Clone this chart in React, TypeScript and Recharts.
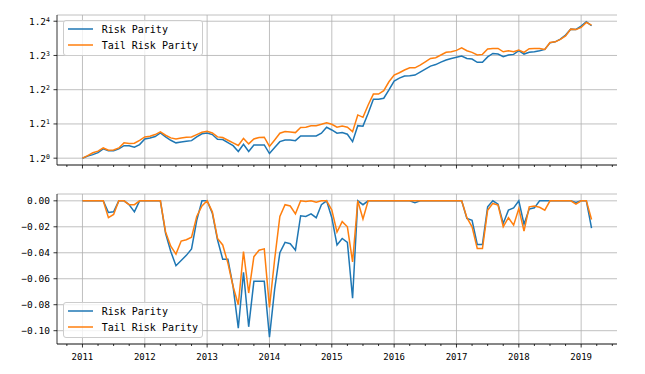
import {
  LineChart, Line, XAxis, YAxis, CartesianGrid, ReferenceLine, Legend,
} from 'recharts'

const FONT = '"DejaVu Sans Mono", monospace'
const BLUE = '#1f77b4'
const ORANGE = '#ff7f0e'
const GRID = '#b0b0b0'

// monthly series, first point = Jan 2011
const START_YEAR = 2011
const BASE = 1.2

const rpNav = [
  1.000, 1.011, 1.019, 1.030, 1.051, 1.040, 1.040, 1.051, 1.069, 1.068, 1.060, 1.075,
  1.108, 1.114, 1.122, 1.144, 1.120, 1.100, 1.085, 1.090, 1.094, 1.098, 1.120, 1.139,
  1.144, 1.134, 1.106, 1.104, 1.086, 1.069, 1.036, 1.077, 1.036, 1.073, 1.073, 1.073,
  1.025, 1.058, 1.092, 1.102, 1.102, 1.098, 1.126, 1.125, 1.126, 1.126, 1.142, 1.179,
  1.162, 1.142, 1.146, 1.136, 1.092, 1.189, 1.186, 1.270, 1.368, 1.368, 1.376, 1.438,
  1.508, 1.532, 1.549, 1.551, 1.557, 1.582, 1.607, 1.633, 1.646, 1.668, 1.686, 1.700,
  1.711, 1.723, 1.701, 1.695, 1.666, 1.666, 1.715, 1.747, 1.741, 1.716, 1.732, 1.738,
  1.772, 1.741, 1.757, 1.762, 1.772, 1.785, 1.848, 1.858, 1.885, 1.926, 1.988, 1.985,
  2.020, 2.067, 2.024,
]

const trpNav = [
  1.000, 1.014, 1.029, 1.038, 1.056, 1.043, 1.045, 1.056, 1.085, 1.081, 1.083, 1.100,
  1.120, 1.124, 1.134, 1.150, 1.130, 1.114, 1.108, 1.114, 1.118, 1.120, 1.134, 1.148,
  1.154, 1.144, 1.120, 1.116, 1.100, 1.085, 1.070, 1.111, 1.079, 1.108, 1.116, 1.118,
  1.065, 1.102, 1.142, 1.152, 1.150, 1.146, 1.177, 1.179, 1.189, 1.189, 1.198, 1.208,
  1.198, 1.179, 1.187, 1.179, 1.152, 1.259, 1.243, 1.327, 1.407, 1.407, 1.432, 1.502,
  1.557, 1.576, 1.599, 1.618, 1.618, 1.642, 1.671, 1.701, 1.707, 1.732, 1.757, 1.762,
  1.775, 1.800, 1.772, 1.757, 1.732, 1.738, 1.788, 1.794, 1.794, 1.762, 1.772, 1.762,
  1.778, 1.757, 1.792, 1.794, 1.794, 1.785, 1.851, 1.858, 1.883, 1.917, 1.988, 1.983,
  2.006, 2.060, 2.030,
]

const rpDd = [
  0, 0, 0, 0, 0, -0.009, -0.0085, 0, 0, -0.003, -0.0085, 0,
  0, 0, 0, 0, -0.025, -0.039, -0.050, -0.046, -0.042, -0.037, -0.015, 0,
  0, -0.0095, -0.030, -0.045, -0.045, -0.066, -0.098, -0.055, -0.097, -0.062, -0.062, -0.062,
  -0.105, -0.068, -0.040, -0.032, -0.033, -0.038, -0.0115, -0.012, -0.010, -0.013, -0.003, 0,
  -0.013, -0.034, -0.029, -0.032, -0.075, 0, -0.003, 0, 0, 0, 0, 0,
  0, 0, 0, 0, -0.0015, 0, 0, 0, 0, 0, 0, 0,
  0, 0, -0.0136, -0.015, -0.0336, -0.0336, -0.0046, 0, -0.0026, -0.0174, -0.0072, -0.0054,
  0, -0.018, -0.0064, -0.0054, 0, 0, 0, 0, 0, 0, 0, -0.0013,
  0, 0, -0.021,
]

const trpDd = [
  0, 0, 0, 0, 0, -0.013, -0.0105, 0, 0, -0.003, -0.003, 0,
  0, 0, 0, 0, -0.024, -0.035, -0.041, -0.031, -0.030, -0.028, -0.012, -0.004,
  0, -0.0085, -0.029, -0.034, -0.048, -0.066, -0.080, -0.039, -0.071, -0.043, -0.038, -0.037,
  -0.082, -0.045, -0.012, -0.003, -0.004, -0.010, 0, -0.0005, 0, -0.001, 0, 0,
  -0.007, -0.024, -0.016, -0.020, -0.047, 0, -0.014, 0, 0, 0, 0, 0,
  0, 0, 0, 0, 0, 0, 0, 0, 0, 0, 0, 0,
  0, 0, -0.013, -0.020, -0.0367, -0.0367, -0.0072, -0.002, -0.0033, -0.020, -0.013, -0.0187,
  -0.006, -0.0233, -0.0046, -0.004, -0.005, -0.0072, 0, 0, 0, 0, 0, -0.0026,
  0, 0, -0.0144,
]

const yearTicks = [2011, 2012, 2013, 2014, 2015, 2016, 2017, 2018, 2019]
const navTickPowers = [0, 1, 2, 3, 4]
const ddTicks = [0, -0.02, -0.04, -0.06, -0.08, -0.1]
const seriesNames = ['Risk Parity', 'Tail Risk Parity']

// matplotlib style 5% margins
const pad = (lo: number, hi: number): [number, number] => {
  const m = (hi - lo) * 0.05
  return [lo - m, hi + m]
}

const times = rpNav.map((_, i) => START_YEAR + i / 12)
const xDomain = pad(times[0], times[times.length - 1])

const quarterTicks: number[] = []
for (let q = Math.ceil(xDomain[0] * 4); q <= Math.floor(xDomain[1] * 4); q++) quarterTicks.push(q / 4)

const logB = (v: number) => Math.log(v) / Math.log(BASE)
const navLog = pad(
  Math.min(...rpNav.map(logB), ...trpNav.map(logB)),
  Math.max(...rpNav.map(logB), ...trpNav.map(logB)),
)
const navDomain = [BASE ** navLog[0], BASE ** navLog[1]]
const navTicks = navTickPowers.map((p) => BASE ** p)

const ddDomain = pad(Math.min(...rpDd, ...trpDd), Math.max(...rpDd, ...trpDd))

const navData = times.map((t, i) => ({ t, rp: rpNav[i], trp: trpNav[i] }))
const ddData = times.map((t, i) => ({ t, rp: rpDd[i], trp: trpDd[i] }))

function XTick(props: any) {
  const { x, y, payload, showLabel } = props
  const v = payload.value
  const major = Math.abs(v - Math.round(v)) < 1e-6
  return (
    <g>
      <line x1={x} x2={x} y1={y} y2={y + (major ? 3.5 : 2)} stroke="#000" strokeWidth={0.8} />
      {major && showLabel && (
        <text x={x} y={y + 15.5} textAnchor="middle" fontSize={9} fontFamily={FONT} fill="#000">
          {Math.round(v)}
        </text>
      )}
    </g>
  )
}

function PowTick(props: any) {
  const { x, y, payload } = props
  const n = Math.round(logB(payload.value))
  return (
    <text x={x} y={y} dy="0.355em" textAnchor="end" fontSize={9.5} fontFamily={FONT} fill="#000">
      {BASE}
      <tspan dy="-0.45em" fontSize={6.5}>{n}</tspan>
    </text>
  )
}

const fmtDd = (v: number) => (v === 0 ? '0.00' : '\u2212' + Math.abs(v).toFixed(2))

function LegendBox() {
  return (
    <div
      style={{
        width: 140, height: 36, boxSizing: 'border-box', paddingLeft: 4,
        border: '1px solid #cccccc', borderRadius: 3, background: 'rgba(255,255,255,0.8)',
        fontFamily: FONT, fontSize: 10, color: '#000',
      }}
    >
      {seriesNames.map((name, i) => (
        <div key={name} style={{ height: 16, display: 'flex', alignItems: 'center' }}>
          <svg width={25} height={4} style={{ marginRight: 8.7 }}>
            <line x1={0} x2={25} y1={2} y2={2} stroke={i === 0 ? BLUE : ORANGE} strokeWidth={1.5} />
          </svg>
          <span style={{ whiteSpace: 'pre' }}>{name}</span>
        </div>
      ))}
    </div>
  )
}

const axisLine = { stroke: '#000', strokeWidth: 0.8 }

function Frame() {
  return [
    <XAxis key="ft" xAxisId="top" orientation="top" type="number" domain={[0, 1]} height={0}
      tick={false} tickLine={false} axisLine={axisLine} />,
    <YAxis key="fr" yAxisId="right" orientation="right" type="number" domain={[0, 1]} width={0}
      tick={false} tickLine={false} axisLine={axisLine} />,
  ]
}

export default function App() {
  return (
    <div style={{ position: 'absolute', left: 0, top: 0, width: 645, height: 374, background: '#fff' }}>
      <div style={{ position: 'absolute', left: 0, top: 0 }}>
        <LineChart width={645} height={175} data={navData} margin={{ top: 15, right: 28, left: 0, bottom: 5 }}>
          <CartesianGrid vertical={false} stroke={GRID} strokeWidth={0.8} />
          {yearTicks.map((yr) => (
            <ReferenceLine key={yr} x={yr} stroke={GRID} strokeWidth={0.8} />
          ))}
          <XAxis dataKey="t" type="number" domain={xDomain} ticks={quarterTicks} interval={0}
            allowDataOverflow height={5} tickLine={false} tickSize={0} tickMargin={0} axisLine={axisLine}
            tick={(p: any) => <XTick {...p} showLabel={false} />} />
          <YAxis type="number" scale="log" domain={navDomain} ticks={navTicks} interval={0}
            allowDataOverflow width={57} tickSize={3.5} tickMargin={3.5}
            tickLine={axisLine} axisLine={axisLine} tick={(p: any) => <PowTick {...p} />} />
          {Frame()}
          <Line dataKey="rp" name={seriesNames[0]} stroke={BLUE} strokeWidth={1.5} dot={false} isAnimationActive={false} />
          <Line dataKey="trp" name={seriesNames[1]} stroke={ORANGE} strokeWidth={1.5} dot={false} isAnimationActive={false} />
          <Legend layout="vertical" align="center" verticalAlign="middle"
            wrapperStyle={{ left: 63, top: 20, width: 140, height: 36 }} content={() => <LegendBox />} />
        </LineChart>
      </div>
      <div style={{ position: 'absolute', left: 0, top: 180 }}>
        <LineChart width={645} height={194} data={ddData} margin={{ top: 14, right: 28, left: 0, bottom: 10 }}>
          <CartesianGrid vertical={false} stroke={GRID} strokeWidth={0.8} />
          {yearTicks.map((yr) => (
            <ReferenceLine key={yr} x={yr} stroke={GRID} strokeWidth={0.8} />
          ))}
          <XAxis dataKey="t" type="number" domain={xDomain} ticks={quarterTicks} interval={0}
            allowDataOverflow height={20} tickLine={false} tickSize={0} tickMargin={0} axisLine={axisLine}
            tick={(p: any) => <XTick {...p} showLabel />} />
          <YAxis type="number" domain={ddDomain} ticks={ddTicks} interval={0}
            allowDataOverflow width={57} tickSize={3.5} tickMargin={3.5}
            tickLine={axisLine} axisLine={axisLine} tickFormatter={fmtDd}
            tick={{ fontSize: 9.5, fontFamily: FONT, fill: '#000' }} />
          {Frame()}
          <Line dataKey="rp" name={seriesNames[0]} stroke={BLUE} strokeWidth={1.5} dot={false} isAnimationActive={false} />
          <Line dataKey="trp" name={seriesNames[1]} stroke={ORANGE} strokeWidth={1.5} dot={false} isAnimationActive={false} />
          <Legend layout="vertical" align="center" verticalAlign="middle"
            wrapperStyle={{ left: 63, top: 122, width: 140, height: 36 }} content={() => <LegendBox />} />
        </LineChart>
      </div>
    </div>
  )
}
